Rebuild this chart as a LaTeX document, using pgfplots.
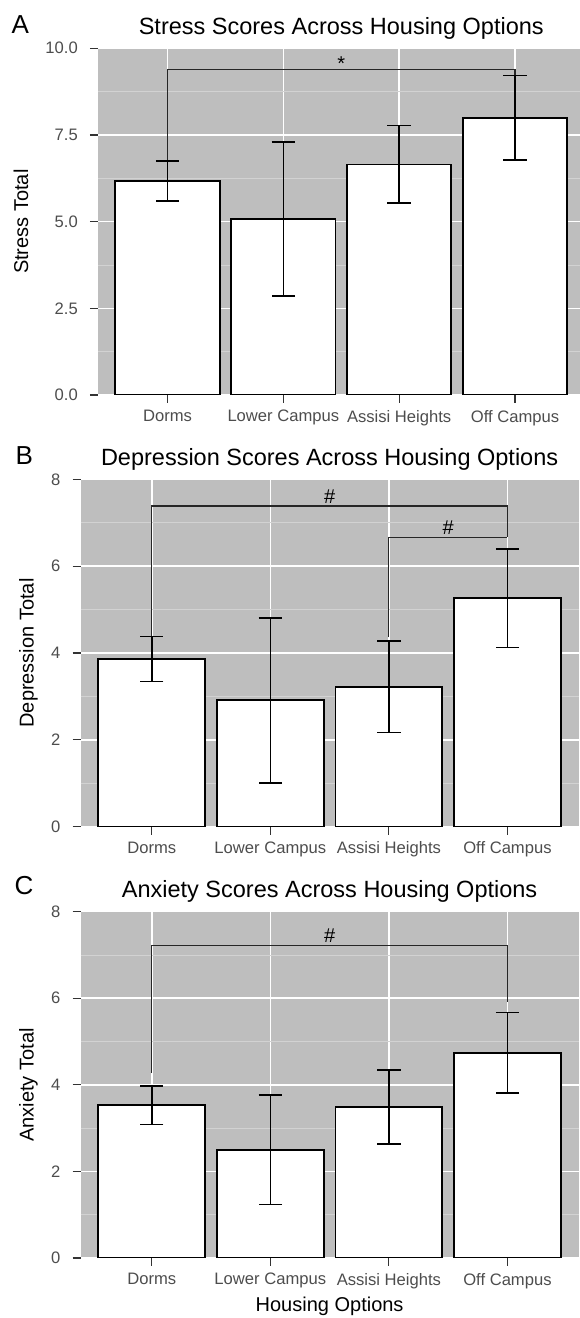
\documentclass[border=0pt]{standalone}
\usepackage{fontspec}
\setmainfont{Liberation Sans}
\usepackage{pgfplots}
\pgfplotsset{compat=1.18}

\definecolor{panelbg}{HTML}{BEBEBE}
\definecolor{minorgrid}{HTML}{D2D2D2}
\definecolor{ticklab}{HTML}{4D4D4D}
\definecolor{tickcol}{HTML}{333333}

\newcommand{\ticksize}{\fontsize{16.6bp}{19bp}\selectfont}
\newcommand{\labsize}{\fontsize{20bp}{24bp}\selectfont}
\newcommand{\titlesize}{\fontsize{23.5bp}{28bp}\selectfont}
\newcommand{\lettersize}{\fontsize{26bp}{30bp}\selectfont}
\newcommand{\sigsize}{\fontsize{20bp}{22bp}\selectfont}

\pgfplotsset{
  housing/.style={
    scale only axis,
    anchor=south west,
    xmin=-0.6, xmax=3.6, ymin=0,
    axis background/.style={fill=panelbg},
    axis line style={draw=none},
    tick align=outside,
    tick pos=left,
    major tick length=8bp,
    minor tick length=0pt,
    every tick/.style={tickcol, line width=1.1bp},
    xtick={0,1,2,3},
    xticklabels={Dorms,Lower Campus,Assisi Heights,Off Campus},
    tick label style={font=\ticksize, text=ticklab, inner sep=0pt},
    yticklabel style={anchor=east, xshift=-12bp},
    xticklabel style={anchor=north, yshift=-7bp},
    xmajorgrids, ymajorgrids, yminorgrids,
    major grid style={white, line width=1.6bp},
    minor grid style={minorgrid, line width=0.9bp},
  },
  bars/.style={
    ybar, bar width=0.9, fill=white, draw=black, line width=1.8bp,
    error bars/y dir=both,
    error bars/y explicit,
    error bars/error bar style={line width=1.6bp, black},
    error bars/error mark options={rotate=90, black, line width=1.6bp, mark size=11.7bp},
  },
  bracket/.style={black!85, line width=1.1bp, mark=none},
}

\begin{document}
\begin{tikzpicture}
\path[use as bounding box] (0,0) rectangle (580bp,1318bp);

% ---------- Stress ----------
\begin{axis}[housing,
  at={(98bp,923bp)}, width=486.5bp, height=346.7bp,
  ymax=10, ytick={0,2.5,5,7.5,10}, yticklabels={0.0,2.5,5.0,7.5,10.0},
  minor ytick={1.25,3.75,6.25,8.75}]
\addplot[bars] table[x=x, y=y, y error=e] {
x y e
0 6.17 0.58
1 5.08 2.22
2 6.65 1.12
3 8.00 1.22
};
\addplot[bracket] coordinates {(0,6.78) (0,9.39) (3,9.39) (3,9.24)};
\node[font=\sigsize, anchor=base] at (axis cs:1.5,9.39) [yshift=-1bp] {*};
\end{axis}

% ---------- Depression ----------
\begin{axis}[housing,
  at={(80.6bp,491.3bp)}, width=498bp, height=347.4bp,
  ymax=8, ytick={0,2,4,6,8}, yticklabels={0,2,4,6,8},
  minor ytick={1,3,5,7}]
\addplot[bars] table[x=x, y=y, y error=e] {
x y e
0 3.86 0.52
1 2.91 1.90
2 3.22 1.05
3 5.26 1.13
};
\addplot[bracket] coordinates {(0,4.40) (0,7.385) (3,7.385) (3,6.66)};
\addplot[bracket] coordinates {(2,4.36) (2,6.66) (3,6.66)};
\node[font=\sigsize, anchor=base] at (axis cs:1.5,7.385) [yshift=3bp] {\#};
\node[font=\sigsize, anchor=base] at (axis cs:2.5,6.66) [yshift=3bp] {\#};
\end{axis}

% ---------- Anxiety ----------
\begin{axis}[housing,
  at={(80.6bp,60bp)}, width=498bp, height=346.3bp,
  ymax=8, ytick={0,2,4,6,8}, yticklabels={0,2,4,6,8},
  minor ytick={1,3,5,7}]
\addplot[bars] table[x=x, y=y, y error=e] {
x y e
0 3.53 0.45
1 2.50 1.26
2 3.49 0.85
3 4.74 0.93
};
\addplot[bracket] coordinates {(0,4.27) (0,7.215) (3,7.215) (3,5.92)};
\node[font=\sigsize, anchor=base] at (axis cs:1.5,7.215) [yshift=3bp] {\#};
\end{axis}

% panel letters
\node[font=\lettersize, anchor=base west] at (8bp,1284.7bp) {A};
\node[font=\lettersize, anchor=base west] at (12bp,853.3bp) {B};
\node[font=\lettersize, anchor=base west] at (11bp,423.7bp) {C};

% titles
\node[font=\titlesize, anchor=base] at (341.25bp,1283.7bp) {Stress Scores Across Housing Options};
\node[font=\titlesize, anchor=base] at (329.6bp,852.7bp) {Depression Scores Across Housing Options};
\node[font=\titlesize, anchor=base] at (329.6bp,420.5bp) {Anxiety Scores Across Housing Options};

% axis titles
\node[font=\labsize, rotate=90] at (21bp,1096.3bp) {Stress Total};
\node[font=\labsize, rotate=90] at (28.5bp,665bp) {Depression Total};
\node[font=\labsize, rotate=90] at (28.5bp,233.1bp) {Anxiety Total};
\node[font=\labsize, anchor=base] at (329.6bp,6.3bp) {Housing Options};
\end{tikzpicture}
\end{document}
